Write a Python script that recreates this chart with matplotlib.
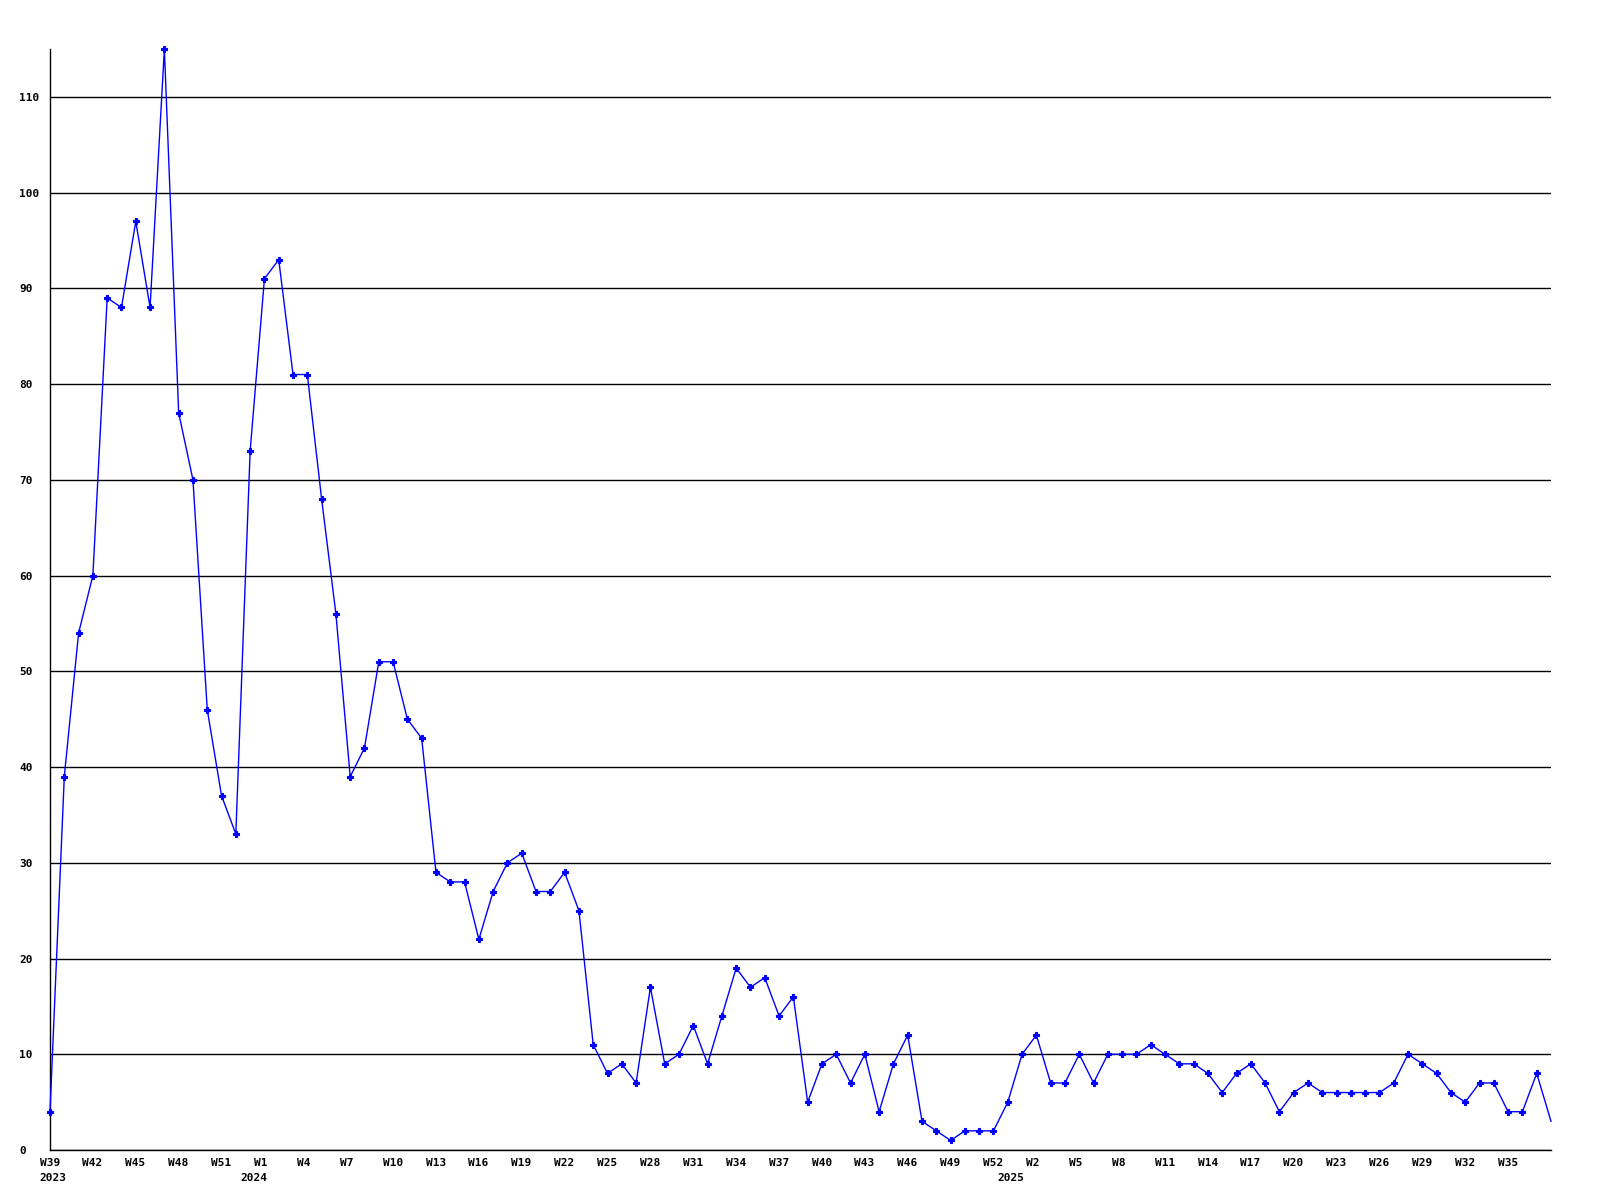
import matplotlib
matplotlib.use("Agg")
import matplotlib.pyplot as plt
from matplotlib.transforms import ScaledTranslation

# weekly counts, 2023 W39 .. 2025 W38 (one value per week)
counts = [4, 39, 54, 60, 89, 88, 97, 88, 115, 77, 70, 46, 37, 33, 73, 91,
          93, 81, 81, 68, 56, 39, 42, 51, 51, 45, 43, 29, 28, 28, 22, 27,
          30, 31, 27, 27, 29, 25, 11, 8, 9, 7, 17, 9, 10, 13, 9, 14,
          19, 17, 18, 14, 16, 5, 9, 10, 7, 10, 4, 9, 12, 3, 2, 1,
          2, 2, 2, 5, 10, 12, 7, 7, 10, 7, 10, 10, 10, 11, 10, 9,
          9, 8, 6, 8, 9, 7, 4, 6, 7, 6, 6, 6, 6, 6, 7, 10,
          9, 8, 6, 5, 7, 7, 4, 4, 8, 3]

# labels every third week
week_ticks = ["W39", "W42", "W45", "W48", "W51", "W1", "W4", "W7", "W10",
              "W13", "W16", "W19", "W22", "W25", "W28", "W31", "W34", "W37",
              "W40", "W43", "W46", "W49", "W52", "W2", "W5", "W8", "W11",
              "W14", "W17", "W20", "W23", "W26", "W29", "W32", "W35"]

years = ["2023", "2024", "2025"]
year_pos = [0, 15, 68]   # index of first week shown for each year

y_ticks = [0, 10, 20, 30, 40, 50, 60, 70, 80, 90, 100, 110]

fig = plt.figure(figsize=(16, 12), dpi=100)
ax = fig.add_axes([50 / 1600, 1 - 1150 / 1200, 1501 / 1600, 1101 / 1200])

x = list(range(len(counts)))
ax.plot(x, counts, color="#0000ff", lw=1, zorder=3, clip_on=False)
# last week is still running -> no marker
ax.plot(x[:-1], counts[:-1], ls="none", color="#0000ff", marker="P",
        ms=4.5, mew=0.8, mec="#0000ff", zorder=4, clip_on=False)

ax.set_xlim(0, len(counts) - 1)
ax.set_ylim(0, 115)

# grid + spines
ax.set_yticks(y_ticks)
ax.yaxis.grid(True, color="black", lw=1)
ax.set_axisbelow(True)
for s in ["top", "right"]:
    ax.spines[s].set_visible(False)
for s in ["left", "bottom"]:
    ax.spines[s].set_color("black")
    ax.spines[s].set_linewidth(1)

font = dict(family="DejaVu Sans Mono", weight="bold", size=8)

ax.set_xticks(x[:len(week_ticks) * 3:3])
ax.set_xticklabels(week_ticks, ha="left", **font)
ax.tick_params(axis="x", length=0, pad=6)
shift = ScaledTranslation(-10.4 / 100, 0, fig.dpi_scale_trans)
for lab in ax.get_xticklabels():
    lab.set_transform(lab.get_transform() + shift)

ax.set_yticklabels([str(v) for v in y_ticks], ha="left", **font)
ax.tick_params(axis="y", length=0, pad=22)

# year labels under the week labels
for i, (yr, p) in enumerate(zip(years, year_pos)):
    if i == 0:
        ax.annotate(yr, xy=(p, 0), xycoords=("data", "axes fraction"),
                    xytext=(-10.4, -23), textcoords="offset pixels",
                    ha="left", va="top", **font)
    else:
        ax.annotate(yr, xy=(p, 0), xycoords=("data", "axes fraction"),
                    xytext=(2.7, -23), textcoords="offset pixels",
                    ha="right", va="top", **font)

fig.savefig("out.png", dpi=100, facecolor="white")
